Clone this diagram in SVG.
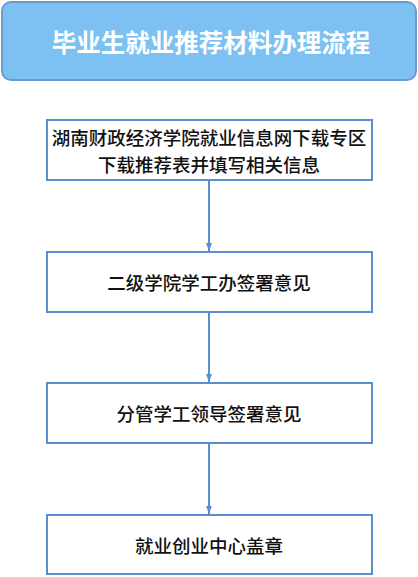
<svg xmlns="http://www.w3.org/2000/svg" width="418" height="577" viewBox="0 0 418 577">
<style>
.box{fill:#ffffff;stroke:#5b8dd1;stroke-width:2}
.t{font-family:"Noto Sans CJK SC","Noto Sans",sans-serif;font-size:18.5px;font-weight:500;fill:#111;text-anchor:middle;dominant-baseline:central}
.title{font-family:"Noto Sans CJK SC","Noto Sans",sans-serif;font-size:24.5px;font-weight:bold;fill:#ffffff;text-anchor:middle;dominant-baseline:central}
.c{stroke:#5b8dd1;stroke-width:2;fill:none}
</style>
<defs>
<marker id="ah" markerWidth="8" markerHeight="6" refX="8" refY="3" orient="auto" markerUnits="userSpaceOnUse">
<path d="M0,0 L8,3 L0,6 Z" fill="#5b8dd1"/>
</marker>
</defs>
<rect width="418" height="577" fill="#ffffff"/>
<g id="title">
<rect x="2" y="2" width="414" height="78" rx="9" fill="#7dc1f2" stroke="#6a9bd0" stroke-width="2"/>
<text class="title" x="211" y="41">毕业生就业推荐材料办理流程</text>
</g>
<g id="connectors">
<line class="c" x1="209" y1="181" x2="209" y2="251" marker-end="url(#ah)"/>
<line class="c" x1="209" y1="313" x2="209" y2="382" marker-end="url(#ah)"/>
<line class="c" x1="209" y1="444" x2="209" y2="514" marker-end="url(#ah)"/>
</g>
<g id="n1">
<rect class="box" x="47" y="120" width="325" height="60"/>
<text class="t" x="209" y="136.5">湖南财政经济学院就业信息网下载专区</text>
<text class="t" x="209" y="163.5">下载推荐表并填写相关信息</text>
</g>
<g id="n2">
<rect class="box" x="47" y="252" width="325" height="60"/>
<text class="t" x="209" y="282">二级学院学工办签署意见</text>
</g>
<g id="n3">
<rect class="box" x="47" y="383" width="325" height="60"/>
<text class="t" x="209" y="413">分管学工领导签署意见</text>
</g>
<g id="n4">
<rect class="box" x="47" y="515" width="325" height="59"/>
<text class="t" x="209" y="545">就业创业中心盖章</text>
</g>
</svg>
